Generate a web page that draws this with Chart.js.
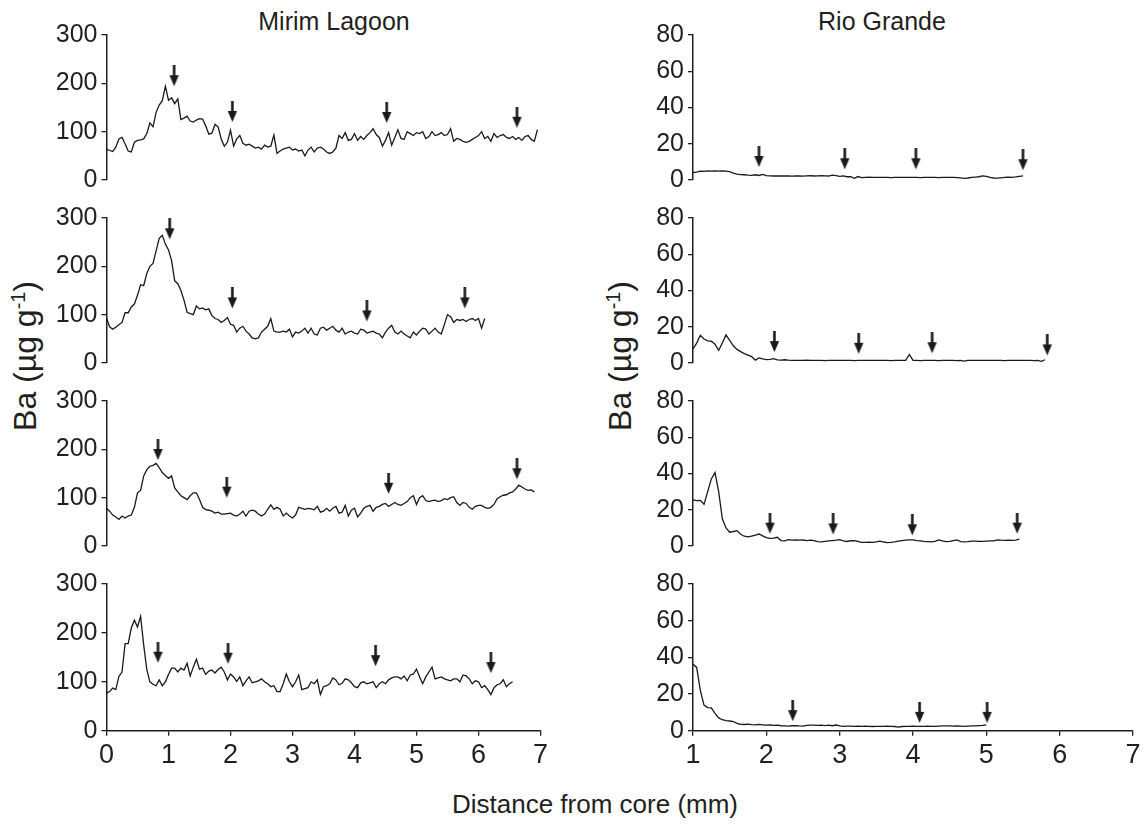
<!DOCTYPE html>
<html>
<head>
<meta charset="utf-8">
<script src="https://cdn.jsdelivr.net/npm/chart.js@4.4.1/dist/chart.umd.min.js"></script>
<style>
  body { margin: 0; background: #fff; }
  #fig { position: relative; width: 1147px; height: 834px; overflow: hidden; background: #fff;
         font-family: 'Liberation Sans', Arial, sans-serif; color: #231f20; }
  #fig canvas { position: absolute; }
  .lbl { position: absolute; white-space: nowrap; line-height: 1; transform: translate(-50%, -50%); }
  .ylab { transform: translate(-50%, -50%) rotate(-90deg); font-size: 32px; }
  .ylab sup { font-size: 0.62em; vertical-align: 0.55em; line-height: 0; }
</style>
</head>
<body>
<div id="fig">
  <div class="lbl" style="left:334px; top:21px; font-size:25px;">Mirim Lagoon</div>
  <div class="lbl" style="left:882px; top:21px; font-size:25px;">Rio Grande</div>
  <div class="lbl ylab" style="left:25px; top:356px;">Ba (µg g<sup>-1</sup>)</div>
  <div class="lbl ylab" style="left:620px; top:356px;">Ba (µg g<sup>-1</sup>)</div>
  <div class="lbl" style="left:595px; top:804px; font-size:26px;">Distance from core (mm)</div>
</div>
<script>
// distance from core (mm) sampled along each transect
const leftMm = [
  0,0.05,0.1,0.15,0.2,0.25,0.3,0.35,0.4,0.45,0.5,0.55,0.6,0.65,0.7,0.75,0.8,0.85,0.9,0.95,
  1,1.05,1.1,1.15,1.2,1.25,1.3,1.35,1.4,1.45,1.5,1.55,1.6,1.65,1.7,1.75,1.8,1.85,1.9,1.95,
  2,2.05,2.1,2.15,2.2,2.25,2.3,2.35,2.4,2.45,2.5,2.55,2.6,2.65,2.7,2.75,2.8,2.85,2.9,2.95,
  3,3.05,3.1,3.15,3.2,3.25,3.3,3.35,3.4,3.45,3.5,3.55,3.6,3.65,3.7,3.75,3.8,3.85,3.9,3.95,
  4,4.05,4.1,4.15,4.2,4.25,4.3,4.35,4.4,4.45,4.5,4.55,4.6,4.65,4.7,4.75,4.8,4.85,4.9,4.95,
  5,5.05,5.1,5.15,5.2,5.25,5.3,5.35,5.4,5.45,5.5,5.55,5.6,5.65,5.7,5.75,5.8,5.85,5.9,5.95,
  6,6.05,6.1,6.15,6.2,6.25,6.3,6.35,6.4,6.45,6.5,6.55,6.6,6.65,6.7,6.75,6.8,6.85,6.9,6.95
];
const rightMm = [
  1,1.05,1.1,1.15,1.2,1.25,1.3,1.35,1.4,1.45,1.5,1.55,1.6,1.65,1.7,1.75,1.8,1.85,1.9,1.95,
  2,2.05,2.1,2.15,2.2,2.25,2.3,2.35,2.4,2.45,2.5,2.55,2.6,2.65,2.7,2.75,2.8,2.85,2.9,2.95,
  3,3.05,3.1,3.15,3.2,3.25,3.3,3.35,3.4,3.45,3.5,3.55,3.6,3.65,3.7,3.75,3.8,3.85,3.9,3.95,
  4,4.05,4.1,4.15,4.2,4.25,4.3,4.35,4.4,4.45,4.5,4.55,4.6,4.65,4.7,4.75,4.8,4.85,4.9,4.95,
  5,5.05,5.1,5.15,5.2,5.25,5.3,5.35,5.4,5.45,5.5,5.55,5.6,5.65,5.7,5.75,5.8
];

// Mirim Lagoon, Ba (ug/g)
const ml1Ba = [
  64,61,59,68,85,88,75,60,58,78, 82,83,85,96,118,110,140,155,164,194,
  165,170,158,168,125,128,132,122,120,124, 127,126,112,95,97,115,110,85,70,78,
  103,70,85,92,76,72,74,70,66,68, 64,72,68,70,93,55,60,64,66,68,
  62,64,60,62,50,62,68,58,66,68, 64,58,55,58,66,92,86,98,82,84,
  96,82,90,84,92,98,106,94,88,70, 82,98,72,88,104,86,84,100,96,92,
  98,96,100,86,90,100,92,94,98,92, 94,106,80,86,84,80,78,80,84,88,
  92,100,86,90,80,96,88,92,94,88, 86,90,84,88,82,90,92,84,80,104
];
const ml2Ba = [
  93,75,70,74,79,84,104,104,116,122, 140,162,160,185,200,206,232,258,264,246,
  234,212,170,164,150,130,105,102,100,118, 112,114,110,112,98,92,90,84,88,94,
  80,78,64,72,76,66,60,52,50,52, 64,70,76,92,66,64,64,66,64,70,
  54,64,62,66,72,62,72,60,58,72, 74,68,72,76,68,64,72,60,64,66,
  62,60,70,68,62,64,66,62,60,52, 64,72,78,64,60,66,60,56,52,64,
  58,66,72,70,60,66,72,64,60,80, 100,96,84,90,88,90,86,90,92,88,
  92,72,92
];
const ml3Ba = [
  78,72,64,60,55,62,58,62,64,80, 110,115,145,158,165,167,171,162,152,146,
  140,145,120,112,104,100,96,104,110,110, 96,80,75,74,72,68,70,66,66,67,
  68,64,62,66,72,62,72,74,72,66, 62,66,76,85,76,80,76,62,68,62,
  58,64,80,78,76,78,77,75,82,70, 72,78,72,78,82,68,70,84,62,74,
  78,60,68,78,82,84,72,80,82,86, 88,82,86,90,86,84,88,92,100,104,
  86,100,104,94,92,94,95,92,94,98, 96,100,102,90,84,90,88,80,76,82,
  84,84,80,78,80,86,98,102,105,106, 110,112,118,126,122,118,115,116,112
];
const ml4Ba = [
  77,80,87,84,111,120,178,178,210,226, 212,234,175,125,100,95,92,104,92,100,
  115,128,128,120,128,124,138,112,130,146, 126,128,115,122,124,118,125,130,120,104,
  116,110,101,110,92,102,110,98,100,102, 106,100,96,90,92,80,80,96,116,100,
  90,100,114,84,86,88,100,96,104,74, 90,92,96,108,104,94,97,106,104,98,
  90,88,98,100,96,98,100,88,96,100, 96,104,108,110,110,106,112,102,114,116,
  126,110,96,110,120,130,106,108,110,106, 104,102,106,106,100,114,112,106,96,102,
  100,88,92,84,74,88,94,96,104,90, 96,100
];

// Rio Grande, Ba (ug/g)
const rg1Ba = [
  4.1,4.4,4.9,4.8,5.0,4.9,5.0,4.9,5.0,4.9, 4.6,3.8,3.3,3.0,2.9,2.7,2.6,2.9,2.5,3.1,
  2.4,2.3,2.2,2.3,2.2,2.3,2.2,2.1,2.3,2.2, 2.1,2.3,2.4,2.2,2.3,2.4,2.3,2.2,2.7,2.4,
  2.0,2.3,1.8,1.9,0.9,1.9,1.3,1.5,1.6,1.4, 1.5,1.4,1.5,1.4,1.3,1.5,1.4,1.4,1.5,1.4,
  1.4,1.5,1.3,1.4,1.5,1.4,1.4,1.3,1.4,1.5, 1.4,1.4,1.3,1.2,0.9,1.1,1.4,1.6,1.8,2.3,
  2.0,1.4,1.1,1.0,1.2,1.4,1.6,1.5,1.7,2.0, 2.3
];
const rg2Ba = [
  7.8,11.0,15.3,13.2,12.2,12.0,10.4,7.0,11.0,15.5, 12.5,9.5,7.5,6.3,5.2,4.3,3.5,1.6,2.8,2.3,
  1.9,2.0,2.4,1.7,1.6,1.8,1.6,1.5,1.4,1.5, 1.4,1.6,1.5,1.4,1.5,1.4,1.3,1.5,1.4,1.4,
  1.5,1.4,1.5,1.4,1.3,1.4,1.5,1.4,1.4,1.5, 1.4,1.4,1.5,1.4,1.3,1.4,1.5,1.4,1.4,4.7,
  1.4,1.4,1.3,1.4,1.5,1.4,1.4,1.3,1.4,1.4, 1.5,1.4,1.3,1.4,1.0,1.4,1.5,1.4,1.4,1.5,
  1.4,1.4,1.5,1.4,1.4,1.3,1.4,1.5,1.4,1.4, 1.5,1.4,1.4,1.3,1.4,0.9,1.8
];
const rg3Ba = [
  25.4,25.0,25.2,23.0,30.0,37.0,40.5,30.0,15.0,10.0, 7.6,8.0,8.5,6.5,5.4,5.0,5.5,6.0,6.6,5.6,
  4.6,4.2,4.3,4.8,3.0,2.8,3.5,3.2,3.3,3.2, 3.3,3.0,3.2,3.0,2.4,2.3,2.6,2.8,3.0,3.2,
  3.5,2.8,2.5,2.9,3.0,2.6,2.0,2.0,2.1,2.0, 2.3,2.7,2.2,1.9,2.0,2.3,2.7,3.0,3.2,3.4,
  3.4,3.0,2.8,2.5,2.4,2.3,2.6,3.4,2.8,2.4, 2.6,3.0,3.4,2.4,2.3,2.4,2.7,2.7,2.6,2.6,
  2.7,2.8,2.8,3.4,3.2,3.1,3.2,3.1,3.2,3.8
];
const rg4Ba = [
  36.2,34.5,22,14,12.6,12.4,9.5,7.0,6.0,5.5, 5.3,5.0,4.0,3.5,3.4,3.6,3.3,3.2,3.4,3.2,
  3.0,3.1,2.9,3.0,2.7,2.6,2.5,2.7,2.8,2.6, 2.5,2.9,3.0,3.0,2.9,3.0,2.8,3.0,2.7,3.1,
  2.6,2.4,2.5,2.5,2.4,2.5,2.4,2.5,2.4,2.3, 2.4,2.4,2.4,2.5,2.4,2.3,2.0,2.3,2.4,2.4,
  2.5,2.4,2.4,2.4,2.5,2.4,2.4,2.5,2.6,2.6, 2.6,2.5,2.6,2.5,2.4,2.5,2.6,2.6,2.8,2.9,
  3.2
];

// arrow marks: position (mm) and level of the arrow tip
const ml1ArrowMm = [1.09, 2.03, 4.52, 6.62], ml1ArrowBa = [194, 120, 118, 108];
const ml2ArrowMm = [1.02, 2.03, 4.20, 5.78], ml2ArrowBa = [256, 113, 86, 113];
const ml3ArrowMm = [0.83, 1.94, 4.55, 6.62], ml3ArrowBa = [178, 100, 108, 138];
const ml4ArrowMm = [0.83, 1.96, 4.34, 6.20], ml4ArrowBa = [139, 137, 132, 118];
const rg1ArrowMm = [1.90, 3.07, 4.04, 5.50], rg1ArrowBa = [7.2, 5.9, 5.9, 5.4];
const rg2ArrowMm = [2.11, 3.26, 4.26, 5.83], rg2ArrowBa = [6.0, 5.1, 5.4, 4.2];
const rg3ArrowMm = [2.05, 2.91, 3.99, 5.42], rg3ArrowBa = [6.8, 6.4, 5.9, 6.8];
const rg4ArrowMm = [2.36, 4.09, 5.01], rg4ArrowBa = [5.2, 4.3, 4.3];

const ink = '#231f20';
const fontFamily = "'Liberation Sans', Arial, sans-serif";

// down arrow drawn in the top half so the image centre is the tip
function makeArrow() {
  const c = document.createElement('canvas');
  c.width = 11; c.height = 42;
  const g = c.getContext('2d');
  g.fillStyle = '#1a1a1a';
  g.fillRect(4.2, 0, 2.6, 11);
  g.beginPath();
  g.moveTo(0.8, 10); g.lineTo(10.2, 10); g.lineTo(5.5, 21);
  g.closePath(); g.fill();
  return c;
}
const arrowImg = makeArrow();

const sides = [
  { left: 0, width: 560, axisW: 106.5, padRight: 19.5, xMin: 0, yMax: 300, yStep: 100 },
  { left: 560, width: 587, axisW: 133, padRight: 14, xMin: 1, yMax: 80, yStep: 20 }
];
const rowTop = [33, 216.07, 399.14, 582.21];
const plotH = 148.5, padTop = 17, xAxisH = 46;

const panels = [
  [0, 0, leftMm, ml1Ba, ml1ArrowMm, ml1ArrowBa],
  [0, 1, leftMm, ml2Ba, ml2ArrowMm, ml2ArrowBa],
  [0, 2, leftMm, ml3Ba, ml3ArrowMm, ml3ArrowBa],
  [0, 3, leftMm, ml4Ba, ml4ArrowMm, ml4ArrowBa],
  [1, 0, rightMm, rg1Ba, rg1ArrowMm, rg1ArrowBa],
  [1, 1, rightMm, rg2Ba, rg2ArrowMm, rg2ArrowBa],
  [1, 2, rightMm, rg3Ba, rg3ArrowMm, rg3ArrowBa],
  [1, 3, rightMm, rg4Ba, rg4ArrowMm, rg4ArrowBa]
];

const fig = document.getElementById('fig');

panels.forEach(([s, row, mm, ba, arrowMm, arrowBa]) => {
  const side = sides[s];
  const bottomRow = row === 3;
  const top = Math.round(rowTop[row] - padTop);
  const pt = rowTop[row] - top;
  const h = bottomRow ? 219 : 183;
  const pb = h - pt - plotH - (bottomRow ? xAxisH : 0);

  const canvas = document.createElement('canvas');
  canvas.width = side.width; canvas.height = h;
  canvas.style.left = side.left + 'px'; canvas.style.top = top + 'px';
  canvas.style.width = side.width + 'px'; canvas.style.height = h + 'px';
  fig.appendChild(canvas);

  new Chart(canvas, {
    type: 'line',
    data: {
      datasets: [
        {
          data: ba.map((v, i) => ({ x: mm[i], y: v })),
          borderColor: '#1a1a1a',
          borderWidth: 1.3,
          pointRadius: 0,
          tension: 0,
          clip: false
        },
        {
          data: arrowMm.map((v, i) => ({ x: v, y: arrowBa[i] })),
          showLine: false,
          pointStyle: arrowImg,
          pointRadius: 10,
          clip: false
        }
      ]
    },
    options: {
      responsive: false,
      animation: false,
      events: [],
      layout: { padding: { top: pt, bottom: pb, left: 0, right: side.padRight } },
      plugins: { legend: { display: false }, tooltip: { enabled: false } },
      scales: {
        x: {
          type: 'linear',
          min: side.xMin,
          max: 7,
          display: bottomRow,
          ticks: { stepSize: 1, autoSkip: false, color: ink, padding: 4, font: { family: fontFamily, size: 27 } },
          grid: { drawOnChartArea: false, tickLength: 5, color: ink, lineWidth: 1.3 },
          border: { color: ink, width: 1.5 },
          afterFit: sc => { if (bottomRow) sc.height = xAxisH; }
        },
        y: {
          min: 0,
          max: side.yMax,
          ticks: { stepSize: side.yStep, autoSkip: false, color: ink, padding: 4, font: { family: fontFamily, size: 25 } },
          grid: { drawOnChartArea: false, tickLength: 5, color: ink, lineWidth: 1.3 },
          border: { color: ink, width: 1.5 },
          afterFit: sc => { sc.width = side.axisW; }
        }
      }
    }
  });
});
</script>
</body>
</html>
